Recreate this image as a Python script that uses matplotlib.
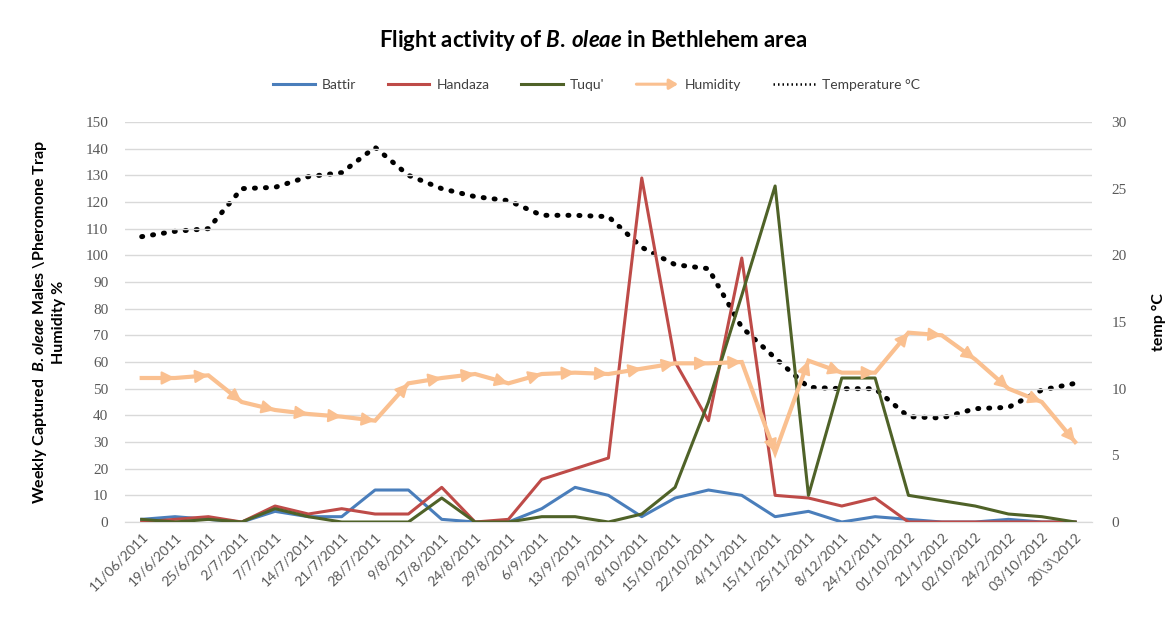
import matplotlib
matplotlib.use('Agg')
import matplotlib.pyplot as plt
from matplotlib.lines import Line2D
from matplotlib.patches import FancyArrowPatch

plt.rcParams['font.family'] = ['Lato', 'DejaVu Sans']
plt.rcParams['mathtext.fontset'] = 'custom'
plt.rcParams['mathtext.it'] = 'Lato:italic:bold'
plt.rcParams['mathtext.rm'] = 'Lato:bold'

# Data
dates = ['11/06/2011', '19/6/2011', '25/6/2011', '2/7/2011', '7/7/2011', '14/7/2011',
         '21/7/2011', '28/7/2011', '9/8/2011', '17/8/2011', '24/8/2011', '29/8/2011',
         '6/9/2011', '13/9/2011', '20/9/2011', '8/10/2011', '15/10/2011', '22/10/2011',
         '4/11/2011', '15/11/2011', '25/11/2011', '8/12/2011', '24/12/2011', '01/10/2012',
         '21/1/2012', '02/10/2012', '24/2/2012', '03/10/2012', '20\\3\\2012']
battir = [1, 2, 1, 0, 4, 2, 2, 12, 12, 1, 0, 0, 5, 13, 10, 2, 9, 12, 10, 2, 4, 0, 2, 1, 0, 0, 1, 0, 0]
handaza = [0, 1, 2, 0, 6, 3, 5, 3, 3, 13, 0, 1, 16, 20, 24, 129, 60, 38, 99, 10, 9, 6, 9, 0, 0, 0, 0, 0, 0]
tuqu = [1, 0, 1, 0, 5, 2, 0, 0, 0, 9, 0, 0, 2, 2, 0, 3, 13, 45, 85, 126, 10, 54, 54, 10, 8, 6, 3, 2, 0]
humidity = [54, 54, 55, 45, 42, 40.5, 39.5, 38, 52, 54, 55.5, 52, 55.5, 56, 55.5, 57.5, 59.5, 59.5, 60,
            26, 60.5, 56, 56, 71, 70, 61, 50, 45, 30]
temperature = [21.4, 21.8, 22.0, 25.0, 25.1, 25.9, 26.2, 28.1, 26.0, 25.0, 24.4, 24.1, 23.0, 23.0, 22.9,
               20.6, 19.3, 19.0, 14.6, 12.3, 10.1, 10.0, 10.0, 7.9, 7.8, 8.5, 8.6, 9.9, 10.4]

c_battir = '#4A7EBB'
c_handaza = '#BE4B48'
c_tuqu = '#4F6228'
c_hum = '#FAC090'
grey = '#595959'

x = list(range(len(dates)))

fig = plt.figure(figsize=(11.74, 6.3), dpi=100)
ax = fig.add_axes([0.1065, 0.1714, 0.8235, 0.635])
ax2 = ax.twinx()

ax.set_zorder(ax2.get_zorder() + 1)
ax.patch.set_visible(False)

ax.plot(x, battir, color=c_battir, lw=2.2, zorder=3)
ax.plot(x, handaza, color=c_handaza, lw=2.2, zorder=3)
ax.plot(x, tuqu, color=c_tuqu, lw=2.2, zorder=3)
ax.plot(x, humidity, color=c_hum, lw=3, solid_joinstyle='miter', zorder=4)
for i in range(1, len(x)):
    ax.annotate('', xy=(x[i], humidity[i]), xytext=(x[i - 1], humidity[i - 1]),
                arrowprops=dict(arrowstyle='-|>,head_length=0.8,head_width=0.4',
                                color=c_hum, lw=1.5, shrinkA=0, shrinkB=0), zorder=4)

# temperature on the right axis, round dotted line
ax2.plot(x, temperature, color='black', lw=3.6, linestyle=(0, (0.2, 2.0)),
         dash_capstyle='round', zorder=5)

ax.set_xlim(-0.5, len(x) - 0.5)
ax.set_ylim(0, 150)
ax.set_yticks(range(0, 151, 10))
ax2.set_ylim(0, 30)
ax2.set_yticks(range(0, 31, 5))

ax.yaxis.grid(True, color='#D9D9D9', lw=1)
ax.set_axisbelow(True)

ax.set_xticks(x)
ax.set_xticklabels(dates, rotation=45, ha='right', rotation_mode='anchor',
                   fontsize=10, color=grey)
ax.tick_params(axis='x', length=0, pad=6)
ax.tick_params(axis='y', length=0, pad=12, labelsize=11, labelcolor=grey,
               labelfontfamily='Liberation Serif')
ax2.tick_params(axis='y', length=0, pad=14, labelsize=11, labelcolor=grey,
                labelfontfamily='Liberation Serif')

for a in (ax, ax2):
    for s in ('top', 'left', 'right'):
        a.spines[s].set_visible(False)
    a.spines['bottom'].set_color('#D9D9D9')

ax.set_ylabel('Weekly Captured  $\\mathit{B.oleae}$ Males \\Pheromone Trap\nHumidity %',
              fontsize=11.5, fontweight='bold', color='black', labelpad=14, linespacing=1.3)
ax2.set_ylabel('temp °C', fontsize=11.5, fontweight='bold', color='black', labelpad=18)

fig.suptitle('Flight activity of $\\mathit{B.}$$\\mathit{\\,oleae}$ in Bethlehem area',
             x=0.505, y=0.955, fontsize=16, fontweight='bold')


class ArrowHandler:
    def legend_artist(self, legend, orig_handle, fontsize, handlebox):
        x0, y0 = handlebox.xdescent, handlebox.ydescent
        w, h = handlebox.width, handlebox.height
        arr = FancyArrowPatch((x0, y0 + h / 2), (x0 + w, y0 + h / 2),
                              arrowstyle='-|>,head_length=5,head_width=3',
                              color=c_hum, lw=2.2, shrinkA=0, shrinkB=0,
                              transform=handlebox.get_transform())
        handlebox.add_artist(arr)
        return arr


handles = [Line2D([], [], color=c_battir, lw=2.2),
           Line2D([], [], color=c_handaza, lw=2.2),
           Line2D([], [], color=c_tuqu, lw=2.2),
           Line2D([], [], color=c_hum, lw=2.2),
           Line2D([], [], color='black', lw=1.8, linestyle=(0, (0.6, 1.2)))]
labels = ['Battir', 'Handaza', 'Tuqu\'', 'Humidity', 'Temperature °C']
leg = fig.legend(handles, labels, loc='center', bbox_to_anchor=(0.508, 0.865), ncol=5,
                 frameon=False, fontsize=10, handlelength=3.0, handletextpad=0.5,
                 columnspacing=2.3, handler_map={handles[3]: ArrowHandler()})
for t in leg.get_texts():
    t.set_color('#404040')

fig.savefig('out.png', dpi=100)
